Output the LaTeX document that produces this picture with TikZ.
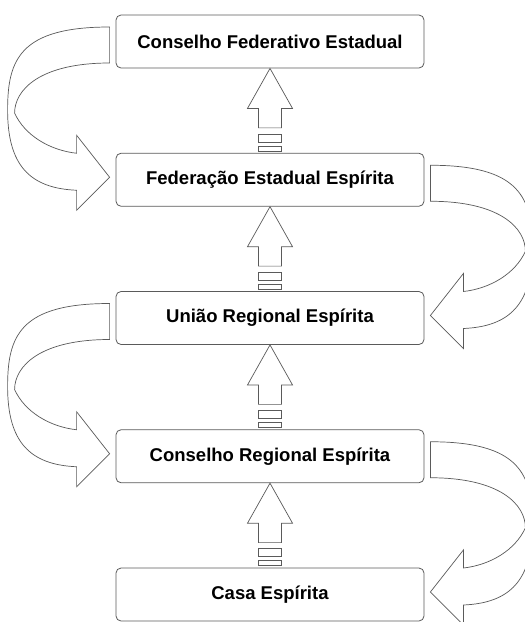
\documentclass[tikz,border=0pt]{standalone}
\usepackage{fontspec}
\setmainfont{Liberation Sans}
\definecolor{linhacinza}{HTML}{5A5A5A}
\usetikzlibrary{calc}
\tikzset{
    orgao/.style={
        draw=linhacinza,
        fill=white,
        rounded corners=5pt,
        line width=0.8pt,
        minimum width=308pt,
        minimum height=53pt,
        inner sep=0pt,
        align=center,
        font=\fontsize{18.5}{22}\selectfont\bfseries
    },
    blocoseta/.style={
        draw=linhacinza,
        fill=white,
        line width=0.7pt,
        line join=miter
    }
}
% #1 orgao de baixo, #2 orgao de cima
\newcommand{\setasobe}[2]{%
    \draw[blocoseta] (#2.south) -- ($(#2.south)+(22.5,40)$) -- ($(#2.south)+(11.5,40)$)
        -- ($(#1.north)+(11.5,-25)$) -- ($(#1.north)+(-11.5,-25)$)
        -- ($(#2.south)+(-11.5,40)$) -- ($(#2.south)+(-22.5,40)$) -- cycle;
    \draw[blocoseta] ($(#1.north)+(-11.5,-19)$) rectangle ($(#1.north)+(11.5,-11)$);
    \draw[blocoseta] ($(#1.north)+(-11.5,-7)$) rectangle ($(#1.north)+(11.5,-2)$);
}
% #1 origem, #2 destino, #3 lado (west/east), #4 sentido (-1/1)
\newcommand{\setacurva}[4]{%
    \draw[blocoseta]
        ($(#1.#3)+(#4*6,-14.5)$)
        .. controls ($(#1.#3)+(#4*96,-14.5)$) and ($(#1.#3)+(#4*108,18.5)$) .. ($(#1.#3)+(#4*108,68.5)$)
        .. controls ($(#2.#3)+(#4*108,-14.5)$) and ($(#2.#3)+(#4*86,8.5)$) .. ($(#2.#3)+(#4*39,10.5)$)
        -- ($(#2.#3)+(#4*39,30.5)$) -- ($(#2.#3)+(#4*6,-2.5)$)
        -- ($(#2.#3)+(#4*39,-44.5)$) -- ($(#2.#3)+(#4*39,-26.5)$)
        .. controls ($(#2.#3)+(#4*66,-29.5)$) and ($(#2.#3)+(#4*91,-44.5)$) .. ($(#1.#3)+(#4*101,71.5)$)
        .. controls ($(#1.#3)+(#4*101,48.5)$) and ($(#1.#3)+(#4*76,21.5)$) .. ($(#1.#3)+(#4*6,21.5)$)
        -- cycle;
}

\begin{document}
\begin{tikzpicture}[x=1pt,y=-1pt]
    \useasboundingbox (0,0) rectangle (525,622);
    \clip (0,0) rectangle (525,622);

    \node[orgao] (conselho) at (270,41.5) {Conselho Federativo Estadual};
    \node[orgao] (federacao) at (270,179.75) {Federação Estadual Espírita};
    \node[orgao] (uniao) at (270,318) {União Regional Espírita};
    \node[orgao] (regional) at (270,456.25) {Conselho Regional Espírita};
    \node[orgao] (casa) at (270,594.5) {Casa Espírita};

    \setasobe{federacao}{conselho}
    \setasobe{uniao}{federacao}
    \setasobe{regional}{uniao}
    \setasobe{casa}{regional}

    \setacurva{conselho}{federacao}{west}{-1}
    \setacurva{federacao}{uniao}{east}{1}
    \setacurva{uniao}{regional}{west}{-1}
    \setacurva{regional}{casa}{east}{1}
\end{tikzpicture}
\end{document}
